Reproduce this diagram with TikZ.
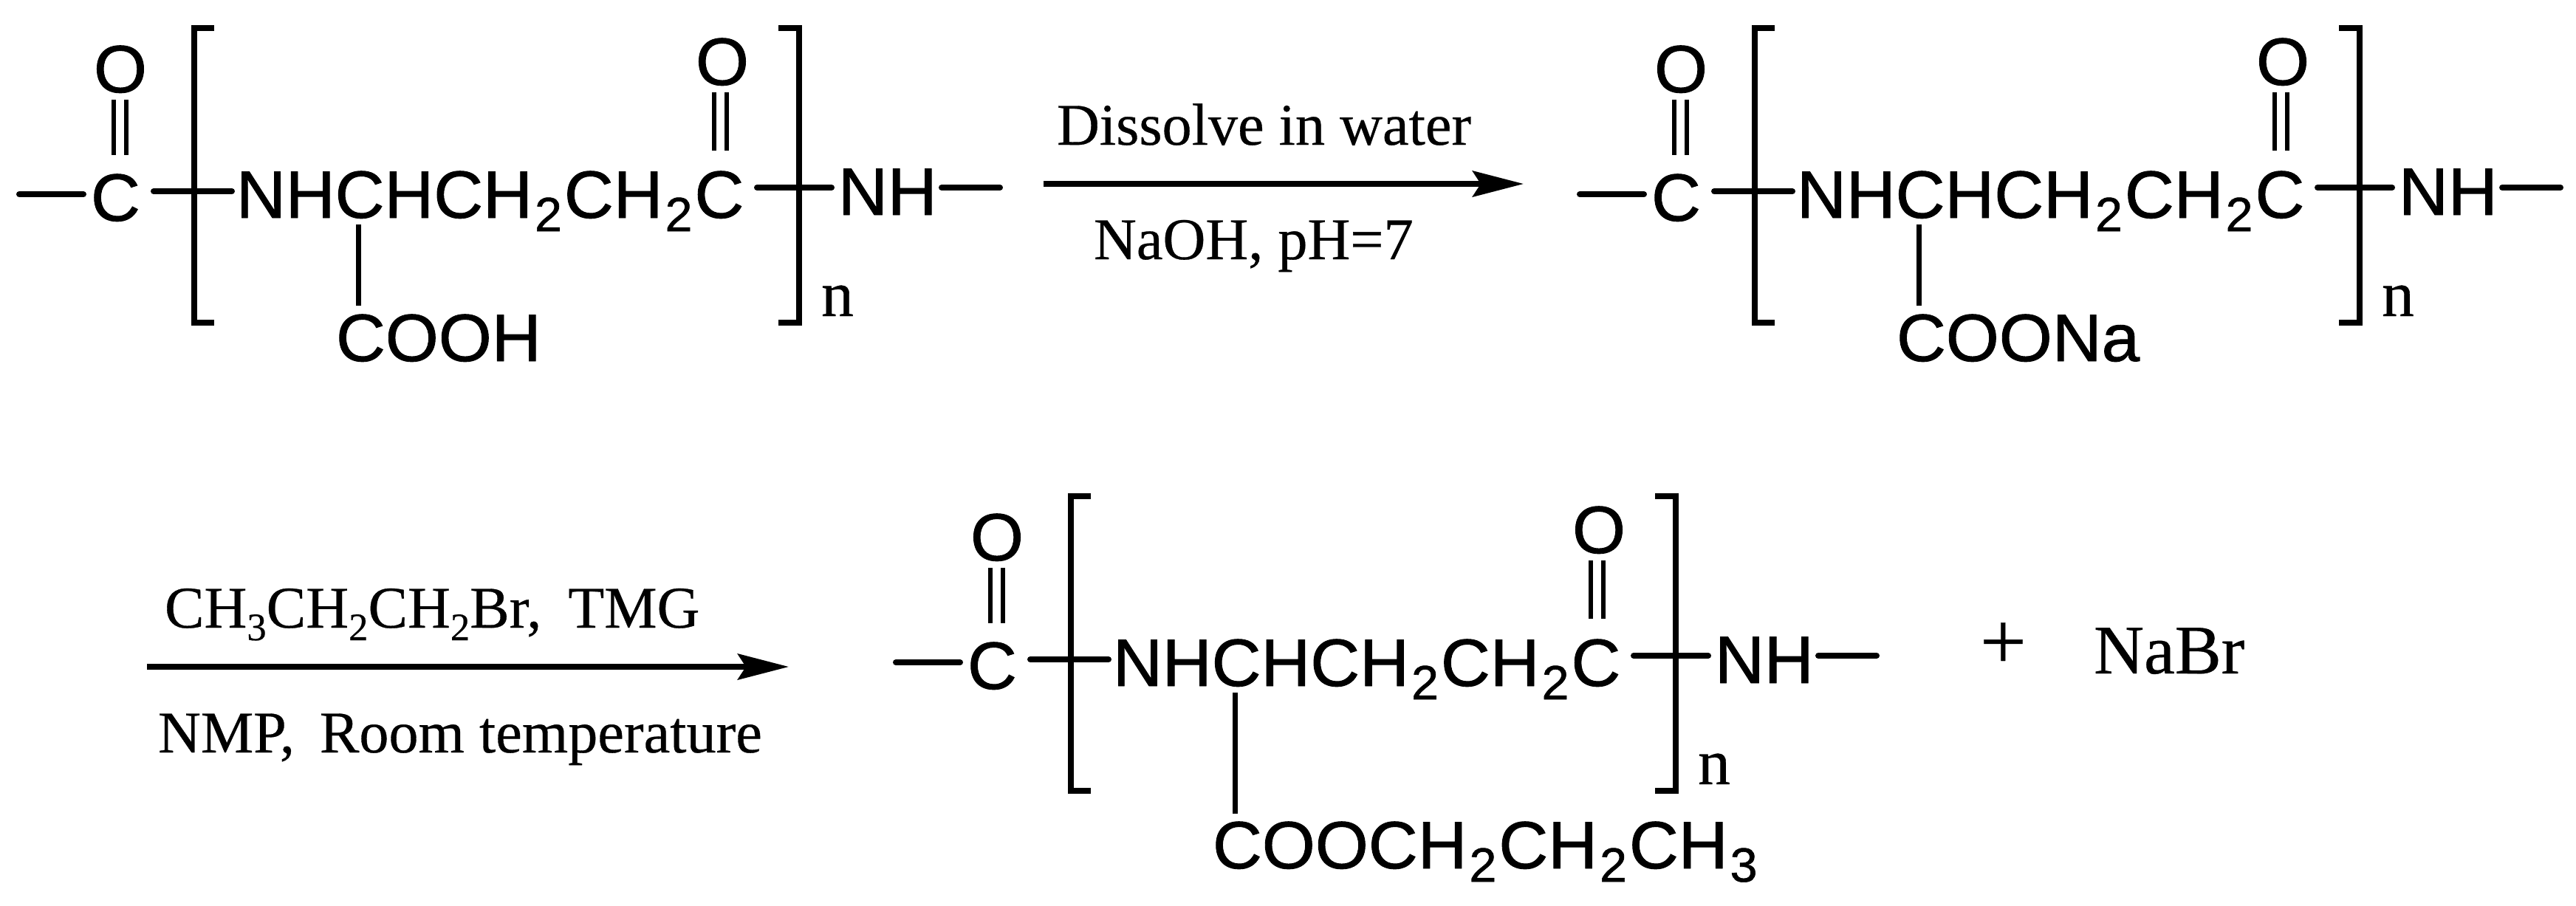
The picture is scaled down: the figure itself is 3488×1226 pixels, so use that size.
\documentclass[tikz,border=0pt]{standalone}
\usepackage{fontspec}
\setmainfont{Liberation Serif}[FakeBold=0.4]
\newfontfamily\chemfont{Liberation Sans}[FakeBold=1.0,FakeStretch=1.02]
\usetikzlibrary{arrows.meta,calc}
\newcommand{\chemsub}[1]{\hspace{0.03cm}\raisebox{-0.18cm}{\fontsize{18.5pt}{18.5pt}\selectfont #1}\hspace{0.03cm}}
\newcommand{\rsub}[1]{\raisebox{-0.17cm}{\fontsize{15pt}{15pt}\selectfont #1}}
\tikzset{
  x=0.01cm,y=-0.01cm,
  atom/.style={inner sep=0pt,outer sep=0pt,anchor=base west,font=\chemfont\fontsize{25.8pt}{26pt}\selectfont},
  serif/.style={inner sep=0pt,outer sep=0pt,anchor=base west,font=\fontsize{22.8pt}{24pt}\selectfont},
  enn/.style={inner sep=0pt,outer sep=0pt,anchor=base west,font=\fontsize{25pt}{26pt}\selectfont},
  bond/.style={line width=0.08cm,line cap=round},
  thinbond/.style={line width=0.055cm},
  sidebond/.style={line width=0.07cm},
  brack/.style={line width=0.075cm},
  rxn/.style={line width=0.075cm,-{Stealth[length=0.69cm,width=0.35cm,inset=0.11cm]}},
}
% #1 prefix, #2 x shift, #3 y shift, #4 side chain text, #5 side baseline, #6 side bond end
\newcommand{\polymer}[6]{%
\begin{scope}[shift={(#2,#3)},name prefix=#1-]
  \node[atom] (c1) at (123,299) {C};
  \node[atom] (o1) at (127,125) {O};
  \node[atom] (chain) at (320,295) {NHCHCH\chemsub{2}CH\chemsub{2}C};
  \node[atom] (o2) at (942,115) {O};
  \node[atom] (nh) at (1135,291) {NH};
  \node[atom] (side) at (455,#5) {#4};
  \node[enn] (n) at (1112,428) {n};
  \coordinate (lfree) at (26,263);
  \coordinate (l1) at (113,263);
  \coordinate (a1) at (208,259);
  \coordinate (a2) at (314,259);
  \coordinate (b1) at (1025,254);
  \coordinate (b2) at (1126,254);
  \coordinate (b3) at (1275,254);
  \coordinate (rfree) at (1354,254);
  \coordinate (dbla1) at (154,135); \coordinate (dbla2) at (154,210);
  \coordinate (dblb1) at (171,135); \coordinate (dblb2) at (171,210);
  \coordinate (dblc1) at (967,125); \coordinate (dblc2) at (967,204);
  \coordinate (dbld1) at (984,125); \coordinate (dbld2) at (984,204);
  \coordinate (sb1) at (485,304); \coordinate (sb2) at (485,#6);
  \coordinate (btl) at (263,38); \coordinate (bbl) at (263,437);
  \coordinate (btr) at (1082,38); \coordinate (bbr) at (1082,437);
  \draw[bond] (lfree) -- (l1);
  \draw[bond] (a1) -- (a2);
  \draw[bond] (b1) -- (b2);
  \draw[bond] (b3) -- (rfree);
  \draw[thinbond] (dbla1) -- (dbla2);
  \draw[thinbond] (dblb1) -- (dblb2);
  \draw[thinbond] (dblc1) -- (dblc2);
  \draw[thinbond] (dbld1) -- (dbld2);
  \draw[sidebond] (sb1) -- (sb2);
  \draw[brack] ($(btl)+(27,0)$) -- (btl) -- (bbl) -- ($(bbl)+(27,0)$);
  \draw[brack] ($(btr)+(-28,0)$) -- (btr) -- (bbr) -- ($(bbr)+(-28,0)$);
\end{scope}}
\begin{document}
\begin{tikzpicture}
\useasboundingbox (0,0) rectangle (3488,1226);
\polymer{a}{0}{0}{COOH}{489}{414}
\polymer{b}{2113}{0}{COONa}{489}{414}
\polymer{d}{1187}{634}{COOCH\chemsub{2}CH\chemsub{2}CH\chemsub{3}}{542}{468}
\node[serif] (t1) at (1431,196) {Dissolve in water};
\node[serif] (t2) at (1481,351) {NaOH, pH=7};
\coordinate (r1s) at (1413,249);
\coordinate (r1e) at (2063,249);
\draw[rxn] (r1s) -- (r1e);
\node[serif] (t3) at (223,850) {CH\rsub{3}CH\rsub{2}CH\rsub{2}Br,\hspace{0.16cm} TMG};
\node[serif] (t4) at (214,1019) {NMP,\hspace{0.14cm} Room temperature};
\coordinate (r2s) at (199,903);
\coordinate (r2e) at (1068,903);
\draw[rxn] (r2s) -- (r2e);
\node[serif,font=\fontsize{31.6pt}{32pt}\selectfont] (plus) at (2681,906) {+};
\node[serif,font=\fontsize{26.8pt}{28pt}\selectfont] (nabr) at (2835,912) {NaBr};
\end{tikzpicture}
\end{document}
